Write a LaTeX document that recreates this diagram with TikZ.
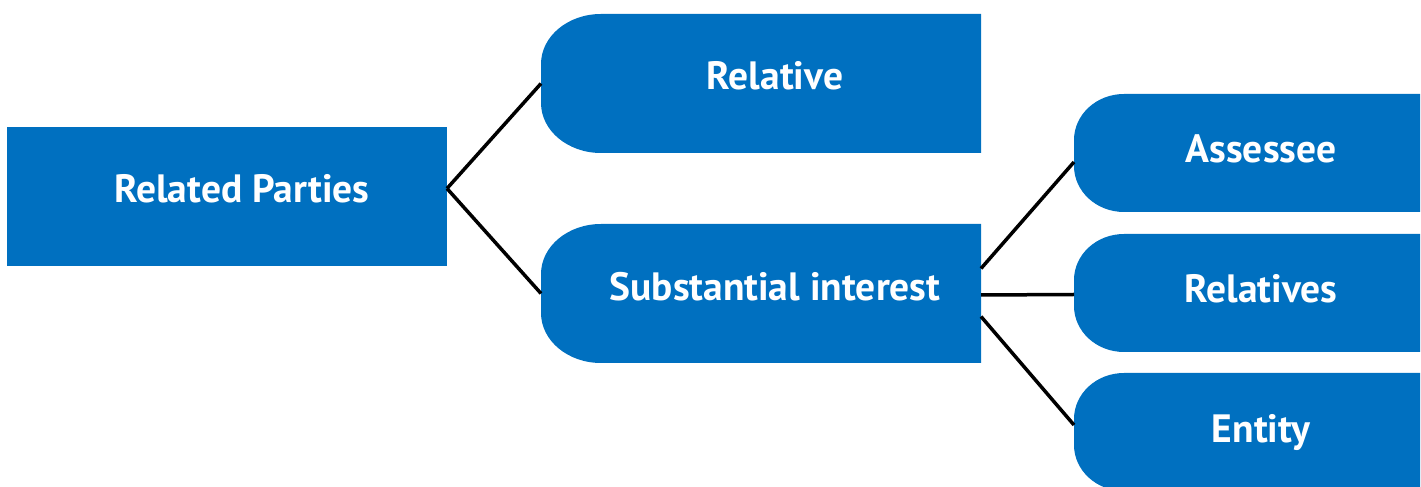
\documentclass[tikz,border=0pt]{standalone}
\usepackage{fontspec}
\setmainfont{PT Sans}
\definecolor{boxblue}{RGB}{0,112,192}
\begin{document}
\begin{tikzpicture}[x=1pt,y=1pt,
  boxnode/.style={rectangle, inner sep=0pt, outer sep=0pt},
  txt/.style={text=white, font=\bfseries\fontsize{39.5}{41}\selectfont, inner sep=0pt, anchor=base},
  conn/.style={draw=black, line width=3.5pt}]
\useasboundingbox (0,0) rectangle (1421,487);
% Related Parties
\node[boxnode, minimum width=440pt, minimum height=139pt] (rp) at (227,290.5) {};
\fill[boxblue] (rp.south west) rectangle (rp.north east);
\node[txt] (rpt) at (242,284) {Related Parties};
% left-rounded boxes
\newcommand{\lbox}[5]{% name, cx, cy, w, h
  \node[boxnode, minimum width=#4pt, minimum height=#5pt] (#1) at (#2,#3) {};
}
\lbox{rel}{761}{403.5}{440}{139}
\lbox{sub}{761}{193.5}{440}{139}
\lbox{ass}{1247}{334}{346}{118}
\lbox{rls}{1247}{194}{346}{118}
\lbox{ent}{1247}{55}{346}{118}
\foreach \n/\rx/\ry in {rel/60/50, sub/60/50, ass/50/46, rls/50/46, ent/50/46}{
  \fill[boxblue] (\n.north east) -- ([xshift=\rx pt]\n.north west)
    arc[start angle=90, end angle=180, x radius=\rx, y radius=\ry]
    -- ([yshift=\ry pt]\n.south west)
    arc[start angle=180, end angle=270, x radius=\rx, y radius=\ry]
    -- (\n.south east) -- cycle;
}
\node[txt] (relt) at (775,397) {Relative};
\node[txt] (subt) at (775,186) {Substantial interest};
\node[txt] (asst) at (1261,324) {Assessee};
\node[txt] (rlst) at (1261,184) {Relatives};
\node[txt] (entt) at (1261,44) {Entity};
% connectors
\draw[conn] ([yshift=8pt]rp.east) -- (rel.west);
\draw[conn] ([yshift=8pt]rp.east) -- (sub.west);
\draw[conn] ([yshift=25pt]sub.east) -- ([yshift=-9pt]ass.west);
\draw[conn] ([yshift=-1.5pt]sub.east) -- ([yshift=-1.5pt]rls.west);
\draw[conn] ([yshift=-23pt]sub.east) -- ([yshift=7pt]ent.west);
\end{tikzpicture}
\end{document}
